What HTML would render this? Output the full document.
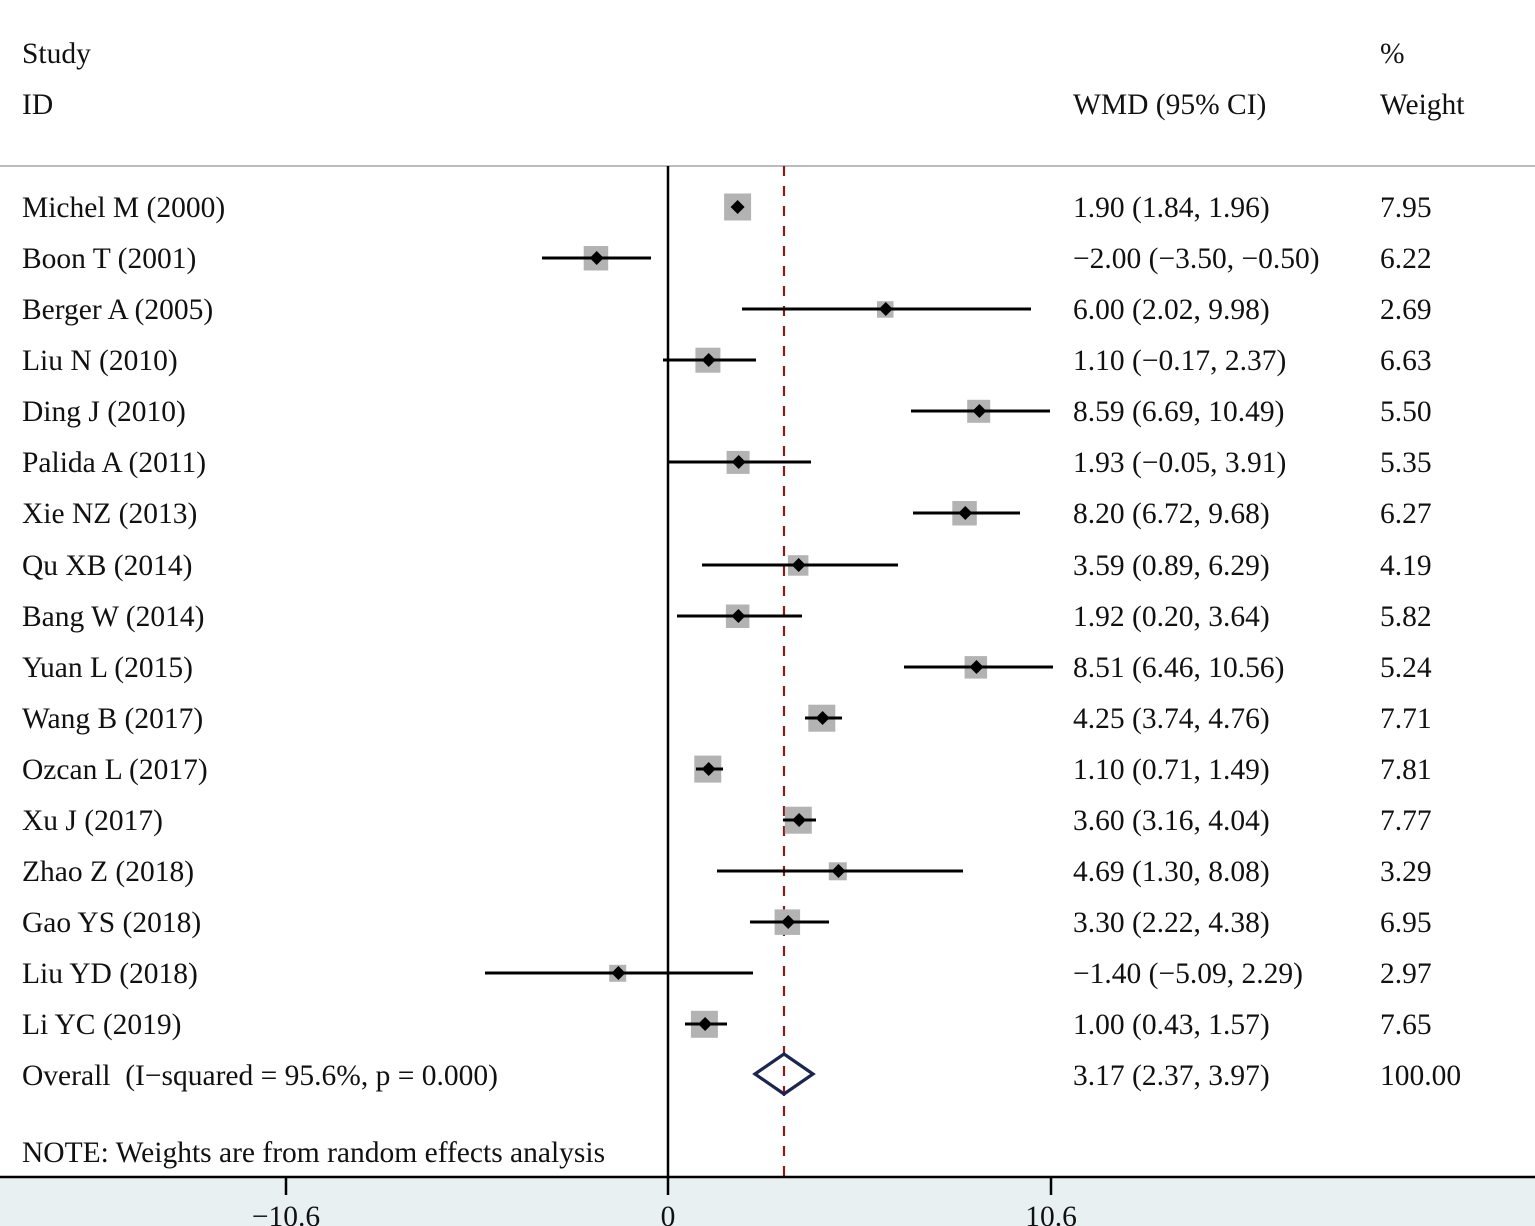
<!DOCTYPE html>
<html><head><meta charset="utf-8"><style>
html,body{margin:0;padding:0;background:#fff}
svg{display:block}
text{font-family:"Liberation Serif",serif;font-size:29.5px;fill:#111}
</style></head><body>
<svg width="1535" height="1226" viewBox="0 0 1535 1226">
<rect x="0" y="1177" width="1535" height="49" fill="#e8f0f2"/>
<line x1="0" y1="166" x2="1535" y2="166" stroke="#bbb" stroke-width="2"/>
<line x1="668" y1="166" x2="668" y2="1177" stroke="#000" stroke-width="2.5"/>
<line x1="784" y1="166" x2="784" y2="1177" stroke="#8b1a1a" stroke-width="2.2" stroke-dasharray="10,10"/>
<line x1="0" y1="1177" x2="1535" y2="1177" stroke="#000" stroke-width="2.5"/>
<g stroke="#000" stroke-width="2.5">
<line x1="286" y1="1177" x2="286" y2="1195"/><line x1="668" y1="1177" x2="668" y2="1195"/><line x1="1051" y1="1177" x2="1051" y2="1195"/>
</g>
<text x="286" y="1226" text-anchor="middle">−10.6</text>
<text x="668" y="1226" text-anchor="middle">0</text>
<text x="1051" y="1226" text-anchor="middle">10.6</text>

<text x="22" y="63">Study</text>
<text x="22" y="114">ID</text>
<text x="1073" y="114">WMD (95% CI)</text>
<text x="1380" y="63">%</text>
<text x="1380" y="114">Weight</text>

<g fill="#b3b3b3">
<rect x="724.1" y="193.5" width="27" height="27"/>
<rect x="583.7" y="246" width="24.5" height="24.5"/>
<rect x="877" y="301.2" width="16.5" height="16.5"/>
<rect x="695.4" y="347.7" width="25" height="25"/>
<rect x="967.2" y="399.8" width="23" height="23"/>
<rect x="726.6" y="450.9" width="23" height="23"/>
<rect x="952.3" y="501" width="24.5" height="24.5"/>
<rect x="787.9" y="555.2" width="20.5" height="20.5"/>
<rect x="725.9" y="604.5" width="23.5" height="23.5"/>
<rect x="964.6" y="656.1" width="22.5" height="22.5"/>
<rect x="808.3" y="704.7" width="27" height="27"/>
<rect x="694.3" y="755.6" width="27" height="27"/>
<rect x="784.8" y="806.7" width="27" height="27"/>
<rect x="828.8" y="862.3" width="18" height="18"/>
<rect x="774.6" y="909.4" width="25.5" height="25.5"/>
<rect x="609.2" y="964.8" width="17" height="17"/>
<rect x="690.9" y="1010.8" width="27" height="27"/>
</g>
<g stroke="#000" stroke-width="3">
<line x1="734.5" y1="207" x2="738.8" y2="207"/>
<line x1="542" y1="258" x2="651" y2="258"/>
<line x1="742" y1="309" x2="1031" y2="309"/>
<line x1="663" y1="360" x2="756" y2="360"/>
<line x1="911" y1="411" x2="1050" y2="411"/>
<line x1="667" y1="462" x2="811" y2="462"/>
<line x1="913" y1="513" x2="1020" y2="513"/>
<line x1="702" y1="565" x2="898" y2="565"/>
<line x1="677" y1="616" x2="802" y2="616"/>
<line x1="904" y1="667" x2="1053" y2="667"/>
<line x1="805" y1="718" x2="842" y2="718"/>
<line x1="696" y1="769" x2="723" y2="769"/>
<line x1="783" y1="820" x2="816" y2="820"/>
<line x1="717" y1="871" x2="963" y2="871"/>
<line x1="750" y1="922" x2="829" y2="922"/>
<line x1="485" y1="973" x2="753" y2="973"/>
<line x1="685" y1="1024" x2="727" y2="1024"/>
</g>
<g fill="#000">
<path d="M737.6 200l7 7-7 7-7-7z"/>
<path d="M596.7 251l7 7-7 7-7-7z"/>
<path d="M885.8 302l7 7-7 7-7-7z"/>
<path d="M708.7 353l7 7-7 7-7-7z"/>
<path d="M979.4 404l7 7-7 7-7-7z"/>
<path d="M738.7 455l7 7-7 7-7-7z"/>
<path d="M965.3 506l7 7-7 7-7-7z"/>
<path d="M798.7 558l7 7-7 7-7-7z"/>
<path d="M738.4 609l7 7-7 7-7-7z"/>
<path d="M976.5 660l7 7-7 7-7-7z"/>
<path d="M822.6 711l7 7-7 7-7-7z"/>
<path d="M708.7 762l7 7-7 7-7-7z"/>
<path d="M799.1 813l7 7-7 7-7-7z"/>
<path d="M838.5 864l7 7-7 7-7-7z"/>
<path d="M788.2 915l7 7-7 7-7-7z"/>
<path d="M618.4 966l7 7-7 7-7-7z"/>
<path d="M705.1 1017l7 7-7 7-7-7z"/>
</g>
<path d="M755 1074L784 1054L813 1074L784 1094Z" fill="none" stroke="#1a2550" stroke-width="3.2"/>

<g>
<text x="22" y="217">Michel M (2000)</text><text x="1073" y="217">1.90 (1.84, 1.96)</text><text x="1380" y="217">7.95</text>
<text x="22" y="268">Boon T (2001)</text><text x="1073" y="268">−2.00 (−3.50, −0.50)</text><text x="1380" y="268">6.22</text>
<text x="22" y="319">Berger A (2005)</text><text x="1073" y="319">6.00 (2.02, 9.98)</text><text x="1380" y="319">2.69</text>
<text x="22" y="370">Liu N (2010)</text><text x="1073" y="370">1.10 (−0.17, 2.37)</text><text x="1380" y="370">6.63</text>
<text x="22" y="421">Ding J (2010)</text><text x="1073" y="421">8.59 (6.69, 10.49)</text><text x="1380" y="421">5.50</text>
<text x="22" y="472">Palida A (2011)</text><text x="1073" y="472">1.93 (−0.05, 3.91)</text><text x="1380" y="472">5.35</text>
<text x="22" y="523">Xie NZ (2013)</text><text x="1073" y="523">8.20 (6.72, 9.68)</text><text x="1380" y="523">6.27</text>
<text x="22" y="575">Qu XB (2014)</text><text x="1073" y="575">3.59 (0.89, 6.29)</text><text x="1380" y="575">4.19</text>
<text x="22" y="626">Bang W (2014)</text><text x="1073" y="626">1.92 (0.20, 3.64)</text><text x="1380" y="626">5.82</text>
<text x="22" y="677">Yuan L (2015)</text><text x="1073" y="677">8.51 (6.46, 10.56)</text><text x="1380" y="677">5.24</text>
<text x="22" y="728">Wang B (2017)</text><text x="1073" y="728">4.25 (3.74, 4.76)</text><text x="1380" y="728">7.71</text>
<text x="22" y="779">Ozcan L (2017)</text><text x="1073" y="779">1.10 (0.71, 1.49)</text><text x="1380" y="779">7.81</text>
<text x="22" y="830">Xu J (2017)</text><text x="1073" y="830">3.60 (3.16, 4.04)</text><text x="1380" y="830">7.77</text>
<text x="22" y="881">Zhao Z (2018)</text><text x="1073" y="881">4.69 (1.30, 8.08)</text><text x="1380" y="881">3.29</text>
<text x="22" y="932">Gao YS (2018)</text><text x="1073" y="932">3.30 (2.22, 4.38)</text><text x="1380" y="932">6.95</text>
<text x="22" y="983">Liu YD (2018)</text><text x="1073" y="983">−1.40 (−5.09, 2.29)</text><text x="1380" y="983">2.97</text>
<text x="22" y="1034">Li YC (2019)</text><text x="1073" y="1034">1.00 (0.43, 1.57)</text><text x="1380" y="1034">7.65</text>
<text x="22" y="1085" xml:space="preserve">Overall  (I−squared = 95.6%, p = 0.000)</text><text x="1073" y="1085">3.17 (2.37, 3.97)</text><text x="1380" y="1085">100.00</text>
<text x="22" y="1162">NOTE: Weights are from random effects analysis</text>
</g>
</svg>
</body></html>
